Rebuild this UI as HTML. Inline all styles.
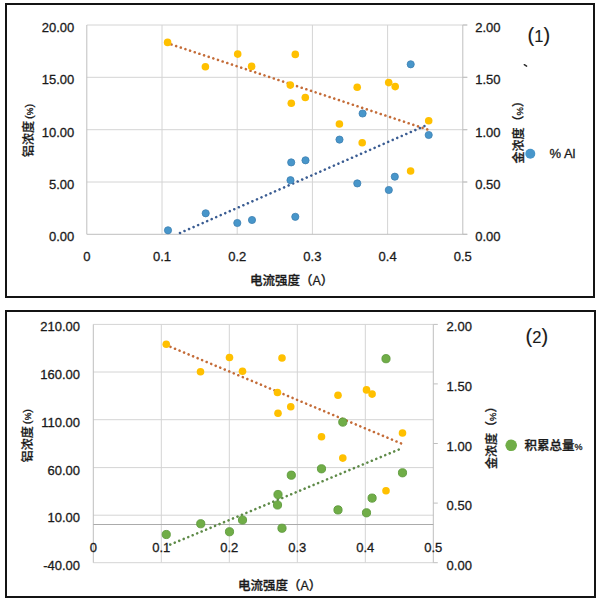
<!DOCTYPE html>
<html><head><meta charset="utf-8"><title>chart</title>
<style>
html,body{margin:0;padding:0;background:#fff;}
body{width:600px;height:602px;overflow:hidden;}
svg{display:block;font-family:"Liberation Sans", "Noto Sans CJK SC", sans-serif;fill:#1a1a1a;}
svg text{fill:#1a1a1a;stroke:#1a1a1a;stroke-width:0.3px;}
</style></head><body>
<svg width="600" height="602" viewBox="0 0 600 602">
<rect width="600" height="602" fill="#fff"/>
<rect x="6" y="4" width="588" height="293" fill="none" stroke="#141414" stroke-width="2"/>
<line x1="86.8" y1="25" x2="467.3" y2="25" stroke="#D4D4D4" stroke-width="1"/>
<line x1="86.8" y1="77.3" x2="467.3" y2="77.3" stroke="#D4D4D4" stroke-width="1"/>
<line x1="86.8" y1="129.7" x2="467.3" y2="129.7" stroke="#D4D4D4" stroke-width="1"/>
<line x1="86.8" y1="182" x2="467.3" y2="182" stroke="#D4D4D4" stroke-width="1"/>
<line x1="162.0" y1="25" x2="162.0" y2="234.3" stroke="#D4D4D4" stroke-width="1"/>
<line x1="237.2" y1="25" x2="237.2" y2="234.3" stroke="#D4D4D4" stroke-width="1"/>
<line x1="312.4" y1="25" x2="312.4" y2="234.3" stroke="#D4D4D4" stroke-width="1"/>
<line x1="387.6" y1="25" x2="387.6" y2="234.3" stroke="#D4D4D4" stroke-width="1"/>
<line x1="86.8" y1="25" x2="86.8" y2="234.3" stroke="#BFBFBF" stroke-width="1"/>
<line x1="462.8" y1="25" x2="462.8" y2="234.3" stroke="#BFBFBF" stroke-width="1"/>
<line x1="86.8" y1="234.3" x2="467.3" y2="234.3" stroke="#BFBFBF" stroke-width="1"/>
<line x1="462.8" y1="25" x2="467.3" y2="25" stroke="#BFBFBF" stroke-width="1"/>
<line x1="462.8" y1="77.3" x2="467.3" y2="77.3" stroke="#BFBFBF" stroke-width="1"/>
<line x1="462.8" y1="129.7" x2="467.3" y2="129.7" stroke="#BFBFBF" stroke-width="1"/>
<line x1="462.8" y1="182" x2="467.3" y2="182" stroke="#BFBFBF" stroke-width="1"/>
<line x1="462.8" y1="234.3" x2="467.3" y2="234.3" stroke="#BFBFBF" stroke-width="1"/>
<text x="74.3" y="32" font-size="13" text-anchor="end" >20.00</text>
<text x="475.2" y="32" font-size="13" text-anchor="start" >2.00</text>
<text x="74.3" y="84.3" font-size="13" text-anchor="end" >15.00</text>
<text x="475.2" y="84.3" font-size="13" text-anchor="start" >1.50</text>
<text x="74.3" y="136.7" font-size="13" text-anchor="end" >10.00</text>
<text x="475.2" y="136.7" font-size="13" text-anchor="start" >1.00</text>
<text x="74.3" y="189" font-size="13" text-anchor="end" >5.00</text>
<text x="475.2" y="189" font-size="13" text-anchor="start" >0.50</text>
<text x="74.3" y="241.3" font-size="13" text-anchor="end" >0.00</text>
<text x="475.2" y="241.3" font-size="13" text-anchor="start" >0.00</text>
<text x="86.8" y="261" font-size="13" text-anchor="middle" >0</text>
<text x="162.0" y="261" font-size="13" text-anchor="middle" >0.1</text>
<text x="237.2" y="261" font-size="13" text-anchor="middle" >0.2</text>
<text x="312.4" y="261" font-size="13" text-anchor="middle" >0.3</text>
<text x="387.6" y="261" font-size="13" text-anchor="middle" >0.4</text>
<text x="462.8" y="261" font-size="13" text-anchor="middle" >0.5</text>
<text x="250" y="285.3" font-size="12.5" text-anchor="start" font-weight="500">电流强度（A）</text>
<text transform="translate(33.4,157) rotate(-90)" font-size="12" font-weight="500">铝浓度<tspan font-size="11.5" dx="2" dy="-0.8">(</tspan><tspan font-size="8.5">%</tspan><tspan font-size="11.5">)</tspan></text>
<text transform="translate(523.4,163.5) rotate(-90)" font-size="12" font-weight="500">金浓度<tspan font-size="12">（</tspan><tspan font-size="9.5">%</tspan><tspan font-size="12">）</tspan></text>
<text x="527.6" y="42.3" font-size="20" text-anchor="start" style="stroke-width:0.15px">(<tspan font-size="16.5">1</tspan>)</text>
<line x1="524.3" y1="64.7" x2="526.6" y2="66.2" stroke="#2a2a2a" stroke-width="1.5" stroke-linecap="round"/>
<circle cx="530.3" cy="153.8" r="5" fill="#4896CA"/>
<text x="549.5" y="158.4" font-size="13" text-anchor="start" >% Al</text>
<line x1="167.6" y1="43.2" x2="428.7" y2="129.9" stroke="#C46C38" stroke-width="2.6" stroke-linecap="round" stroke-dasharray="0.01 4.89" stroke-dashoffset="0.8"/>
<line x1="177.0" y1="234.3" x2="428.7" y2="124.2" stroke="#3A5C92" stroke-width="2.6" stroke-linecap="round" stroke-dasharray="0.01 4.93" stroke-dashoffset="1.67"/>
<circle cx="167.6" cy="42.4" r="3.8" fill="#FFC000"/>
<circle cx="205.4" cy="66.8" r="3.8" fill="#FFC000"/>
<circle cx="237.7" cy="54.1" r="3.8" fill="#FFC000"/>
<circle cx="251.6" cy="66.4" r="3.8" fill="#FFC000"/>
<circle cx="290.3" cy="85.1" r="3.8" fill="#FFC000"/>
<circle cx="291.3" cy="103.2" r="3.8" fill="#FFC000"/>
<circle cx="295.3" cy="54.4" r="3.8" fill="#FFC000"/>
<circle cx="305.3" cy="97.5" r="3.8" fill="#FFC000"/>
<circle cx="339.4" cy="124" r="3.8" fill="#FFC000"/>
<circle cx="357.2" cy="87.2" r="3.8" fill="#FFC000"/>
<circle cx="362.2" cy="142.8" r="3.8" fill="#FFC000"/>
<circle cx="388.7" cy="82.6" r="3.8" fill="#FFC000"/>
<circle cx="395.2" cy="86.6" r="3.8" fill="#FFC000"/>
<circle cx="410.6" cy="171" r="3.8" fill="#FFC000"/>
<circle cx="428.7" cy="120.8" r="3.8" fill="#FFC000"/>
<circle cx="168" cy="230.3" r="3.6" fill="#4896CA" stroke="#3E80B3" stroke-width="0.8"/>
<circle cx="205.7" cy="213.3" r="3.6" fill="#4896CA" stroke="#3E80B3" stroke-width="0.8"/>
<circle cx="237.3" cy="223" r="3.6" fill="#4896CA" stroke="#3E80B3" stroke-width="0.8"/>
<circle cx="252" cy="220" r="3.6" fill="#4896CA" stroke="#3E80B3" stroke-width="0.8"/>
<circle cx="295.3" cy="216.8" r="3.6" fill="#4896CA" stroke="#3E80B3" stroke-width="0.8"/>
<circle cx="291.2" cy="162.4" r="3.6" fill="#4896CA" stroke="#3E80B3" stroke-width="0.8"/>
<circle cx="305.5" cy="160.3" r="3.6" fill="#4896CA" stroke="#3E80B3" stroke-width="0.8"/>
<circle cx="290.5" cy="180.2" r="3.6" fill="#4896CA" stroke="#3E80B3" stroke-width="0.8"/>
<circle cx="339.5" cy="139.6" r="3.6" fill="#4896CA" stroke="#3E80B3" stroke-width="0.8"/>
<circle cx="357.3" cy="183.4" r="3.6" fill="#4896CA" stroke="#3E80B3" stroke-width="0.8"/>
<circle cx="362.6" cy="113.5" r="3.6" fill="#4896CA" stroke="#3E80B3" stroke-width="0.8"/>
<circle cx="388.8" cy="190" r="3.6" fill="#4896CA" stroke="#3E80B3" stroke-width="0.8"/>
<circle cx="394.8" cy="176.7" r="3.6" fill="#4896CA" stroke="#3E80B3" stroke-width="0.8"/>
<circle cx="410.7" cy="64.3" r="3.6" fill="#4896CA" stroke="#3E80B3" stroke-width="0.8"/>
<circle cx="428.7" cy="135" r="3.6" fill="#4896CA" stroke="#3E80B3" stroke-width="0.8"/>
<rect x="6" y="311" width="589" height="286" fill="none" stroke="#141414" stroke-width="2"/>
<line x1="93.3" y1="324.4" x2="433.3" y2="324.4" stroke="#D4D4D4" stroke-width="1"/>
<line x1="93.3" y1="372.0" x2="433.3" y2="372.0" stroke="#D4D4D4" stroke-width="1"/>
<line x1="93.3" y1="419.7" x2="433.3" y2="419.7" stroke="#D4D4D4" stroke-width="1"/>
<line x1="93.3" y1="467.6" x2="433.3" y2="467.6" stroke="#D4D4D4" stroke-width="1"/>
<line x1="93.3" y1="515.2" x2="433.3" y2="515.2" stroke="#D4D4D4" stroke-width="1"/>
<line x1="161.3" y1="324.4" x2="161.3" y2="562.7" stroke="#D4D4D4" stroke-width="1"/>
<line x1="229.3" y1="324.4" x2="229.3" y2="562.7" stroke="#D4D4D4" stroke-width="1"/>
<line x1="297.3" y1="324.4" x2="297.3" y2="562.7" stroke="#D4D4D4" stroke-width="1"/>
<line x1="365.3" y1="324.4" x2="365.3" y2="562.7" stroke="#D4D4D4" stroke-width="1"/>
<line x1="93.3" y1="562.7" x2="433.3" y2="562.7" stroke="#D4D4D4" stroke-width="1"/>
<line x1="93.3" y1="324.4" x2="93.3" y2="562.7" stroke="#BFBFBF" stroke-width="1"/>
<line x1="433.3" y1="324.4" x2="433.3" y2="562.7" stroke="#BFBFBF" stroke-width="1"/>
<line x1="93.3" y1="524.5" x2="433.3" y2="524.5" stroke="#ABABAB" stroke-width="1"/>
<line x1="433.3" y1="324.4" x2="437.8" y2="324.4" stroke="#BFBFBF" stroke-width="1"/>
<line x1="433.3" y1="383.9" x2="437.8" y2="383.9" stroke="#BFBFBF" stroke-width="1"/>
<line x1="433.3" y1="443.5" x2="437.8" y2="443.5" stroke="#BFBFBF" stroke-width="1"/>
<line x1="433.3" y1="503.1" x2="437.8" y2="503.1" stroke="#BFBFBF" stroke-width="1"/>
<line x1="433.3" y1="562.7" x2="437.8" y2="562.7" stroke="#BFBFBF" stroke-width="1"/>
<text x="80" y="331.4" font-size="13" text-anchor="end" >210.00</text>
<text x="80" y="379.0" font-size="13" text-anchor="end" >160.00</text>
<text x="80" y="426.7" font-size="13" text-anchor="end" >110.00</text>
<text x="80" y="474.6" font-size="13" text-anchor="end" >60.00</text>
<text x="80" y="522.2" font-size="13" text-anchor="end" >10.00</text>
<text x="80" y="569.7" font-size="13" text-anchor="end" >-40.00</text>
<text x="446.6" y="331.4" font-size="13" text-anchor="start" >2.00</text>
<text x="446.6" y="390.9" font-size="13" text-anchor="start" >1.50</text>
<text x="446.6" y="450.5" font-size="13" text-anchor="start" >1.00</text>
<text x="446.6" y="510.1" font-size="13" text-anchor="start" >0.50</text>
<text x="446.6" y="569.7" font-size="13" text-anchor="start" >0.00</text>
<text x="93.3" y="552.3" font-size="13" text-anchor="middle" >0</text>
<text x="161.3" y="552.3" font-size="13" text-anchor="middle" >0.1</text>
<text x="229.3" y="552.3" font-size="13" text-anchor="middle" >0.2</text>
<text x="297.3" y="552.3" font-size="13" text-anchor="middle" >0.3</text>
<text x="365.3" y="552.3" font-size="13" text-anchor="middle" >0.4</text>
<text x="433.3" y="552.3" font-size="13" text-anchor="middle" >0.5</text>
<text x="238" y="589.8" font-size="12.5" text-anchor="start" font-weight="500">电流强度（A）</text>
<text transform="translate(31.5,462.2) rotate(-90)" font-size="12" font-weight="500">铝浓度<tspan font-size="11.5" dx="2" dy="-0.8">(</tspan><tspan font-size="8.5">%</tspan><tspan font-size="11.5">)</tspan></text>
<text transform="translate(496,469.1) rotate(-90)" font-size="12" font-weight="500">金浓度<tspan font-size="12">（</tspan><tspan font-size="9.5">%</tspan><tspan font-size="12">）</tspan></text>
<text x="525.6" y="342.8" font-size="20" text-anchor="start" style="stroke-width:0.15px">(<tspan font-size="16.5">2</tspan>)</text>
<circle cx="511.2" cy="445.3" r="5.8" fill="#70AD47"/>
<text x="524.5" y="450" font-size="12.5" text-anchor="start" font-weight="500">积累总量<tspan font-size="9">%</tspan></text>
<line x1="166.3" y1="345.1" x2="402.5" y2="444.0" stroke="#C46C38" stroke-width="2.6" stroke-linecap="round" stroke-dasharray="0.01 4.89" stroke-dashoffset="0.35"/>
<line x1="166.3" y1="546.2" x2="402.5" y2="448.0" stroke="#5E8A48" stroke-width="2.6" stroke-linecap="round" stroke-dasharray="0.01 4.84" stroke-dashoffset="0.52"/>
<circle cx="166.25" cy="344.25" r="3.8" fill="#FFC000"/>
<circle cx="200.5" cy="371.75" r="3.8" fill="#FFC000"/>
<circle cx="229.5" cy="357.5" r="3.8" fill="#FFC000"/>
<circle cx="242.5" cy="371.25" r="3.8" fill="#FFC000"/>
<circle cx="277.5" cy="392.5" r="3.8" fill="#FFC000"/>
<circle cx="278" cy="413.25" r="3.8" fill="#FFC000"/>
<circle cx="282" cy="358" r="3.8" fill="#FFC000"/>
<circle cx="290.75" cy="406.75" r="3.8" fill="#FFC000"/>
<circle cx="321.5" cy="436.7" r="3.8" fill="#FFC000"/>
<circle cx="338" cy="395.2" r="3.8" fill="#FFC000"/>
<circle cx="342.8" cy="458.1" r="3.8" fill="#FFC000"/>
<circle cx="366.5" cy="389.9" r="3.8" fill="#FFC000"/>
<circle cx="372.1" cy="394.1" r="3.8" fill="#FFC000"/>
<circle cx="386" cy="490.7" r="3.8" fill="#FFC000"/>
<circle cx="402.5" cy="433" r="3.8" fill="#FFC000"/>
<circle cx="166.25" cy="534.5" r="4.1" fill="#70AD47" stroke="#5E9A3C" stroke-width="0.9"/>
<circle cx="200.75" cy="523.75" r="4.1" fill="#70AD47" stroke="#5E9A3C" stroke-width="0.9"/>
<circle cx="229.5" cy="531.75" r="4.1" fill="#70AD47" stroke="#5E9A3C" stroke-width="0.9"/>
<circle cx="242.5" cy="520" r="4.1" fill="#70AD47" stroke="#5E9A3C" stroke-width="0.9"/>
<circle cx="277.5" cy="505" r="4.1" fill="#70AD47" stroke="#5E9A3C" stroke-width="0.9"/>
<circle cx="278" cy="494.5" r="4.1" fill="#70AD47" stroke="#5E9A3C" stroke-width="0.9"/>
<circle cx="282" cy="528.25" r="4.1" fill="#70AD47" stroke="#5E9A3C" stroke-width="0.9"/>
<circle cx="291.3" cy="475.2" r="4.1" fill="#70AD47" stroke="#5E9A3C" stroke-width="0.9"/>
<circle cx="321.5" cy="468.8" r="4.1" fill="#70AD47" stroke="#5E9A3C" stroke-width="0.9"/>
<circle cx="338" cy="509.9" r="4.1" fill="#70AD47" stroke="#5E9A3C" stroke-width="0.9"/>
<circle cx="342.8" cy="422.1" r="4.1" fill="#70AD47" stroke="#5E9A3C" stroke-width="0.9"/>
<circle cx="366.5" cy="512.8" r="4.1" fill="#70AD47" stroke="#5E9A3C" stroke-width="0.9"/>
<circle cx="372.1" cy="498.1" r="4.1" fill="#70AD47" stroke="#5E9A3C" stroke-width="0.9"/>
<circle cx="386" cy="358.7" r="4.1" fill="#70AD47" stroke="#5E9A3C" stroke-width="0.9"/>
<circle cx="402.5" cy="472.8" r="4.1" fill="#70AD47" stroke="#5E9A3C" stroke-width="0.9"/>
</svg>
</body></html>
